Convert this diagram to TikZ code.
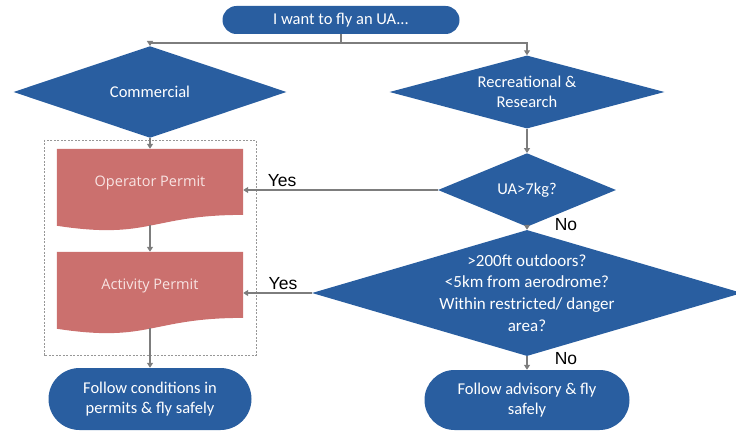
\documentclass[tikz,border=0pt]{standalone}
\usepackage{fontspec}
\usepackage{tikz}
\usetikzlibrary{shapes.geometric,shapes.misc,positioning,arrows.meta,calc,backgrounds}
\newfontfamily\boxfont{Carlito}
\newfontfamily\permfont{Open Sans}
\newfontfamily\lblfont{Liberation Sans}
\definecolor{uablue}{RGB}{41,94,160}
\definecolor{permred}{RGB}{203,112,110}
\definecolor{permtxt}{RGB}{248,228,227}
\definecolor{linegray}{RGB}{125,125,125}
\newcommand\docfill[1]{\fill[permred] (#1.north west) -- (#1.north east)
  -- ($(#1.north east)!0.802!(#1.south east)$)
  .. controls ($(#1.north)!0.802!(#1.south)$) and ($(#1.north)!1.107!(#1.south)$)
  .. ($(#1.north west)!0.934!(#1.south west)$) -- cycle;}

\begin{document}
\begin{tikzpicture}[x=1pt,y=1pt,on grid,
  term/.style={rounded rectangle,fill=uablue,text=white,align=center,inner sep=0pt,
    font=\boxfont\fontsize{16.5}{20.5}\selectfont},
  decision/.style={diamond,fill=uablue,text=white,align=center,inner sep=0pt,
    font=\boxfont\fontsize{16.5}{20}\selectfont},
  dectext/.style={text=white,align=center,font=\boxfont\fontsize{16.5}{20}\selectfont},
  permit/.style={rectangle,minimum width=186pt,minimum height=82pt},
  permtext/.style={text=permtxt,font=\permfont\fontsize{14.5}{17}\selectfont,yshift=7pt},
  flow/.style={draw=linegray,line width=1.6pt,-{Triangle[length=5pt,width=6pt]}},
  answer/.style={font=\lblfont\fontsize{17.5}{20}\selectfont,text=black,inner sep=1pt}]
\useasboundingbox (0,0) rectangle (736,432);
\node[term,minimum width=237pt,minimum height=28pt] (start) at (341,412) {I want to fly an UA...};
\node[decision,minimum width=273pt,minimum height=73pt] (com) [below left=72pt and 191pt of start] {Commercial};
\node[decision,minimum width=275pt,minimum height=73pt,
  label={[dectext]center:{Recreational \&\\Research}}] (rec) [right=377pt of com] {};
\node[permit,label={[permtext]center:Operator Permit}] (opr) [below=98pt of com] {};
\node[permit,label={[permtext]center:Activity Permit}] (act) [below=103pt of opr] {};
\node[term,minimum width=203pt,minimum height=62pt] (endc) [below=106pt of act] {Follow conditions in\\permits \& fly safely};
\node[decision,minimum width=178pt,minimum height=50pt] (uakg) [below=98pt of rec] {UA>7kg?};
\node[decision,minimum width=430pt,minimum height=126pt,
  label={[dectext,font=\boxfont\fontsize{17}{21.7}\selectfont]center:{>200ft outdoors?\\<5km from aerodrome?\\Within restricted/ danger\\area?}}] (big) [below=103pt of uakg] {};
\node[term,minimum width=205pt,minimum height=60pt] (enda) [below=107pt of big] {Follow advisory \& fly\\safely};
\begin{scope}[on background layer]
\docfill{opr}
\docfill{act}
\end{scope}
\draw[linegray!80,line width=0.6pt,dash pattern=on 2pt off 1.5pt]
  ([shift={(-13pt,9pt)}]opr.north west) rectangle ([shift={(13pt,-21pt)}]act.south east);
\coordinate (split) at ([yshift=-9pt]start.south);
\draw[line width=1.6pt,linegray] (start.south) -- (split);
\draw[flow] (split) -| (com);
\draw[flow] (split) -| (rec);
\draw[flow] (com) -- (opr);
\draw[flow] ([yshift=6pt]opr.south) -- (act);
\draw[flow] ([yshift=6pt]act.south) -- (endc);
\draw[flow] (rec) -- (uakg);
\draw[flow] (uakg) -- node[answer,pos=0.8,above=2pt] {Yes} (opr);
\draw[flow] (uakg) -- node[answer,right,xshift=26pt,yshift=4pt] {No} (big);
\draw[flow] (big) -- node[answer,pos=0.42,above=2pt] {Yes} (act);
\draw[flow] (big) -- node[answer,right,xshift=26pt,yshift=4pt] {No} (enda);
\end{tikzpicture}
\end{document}
